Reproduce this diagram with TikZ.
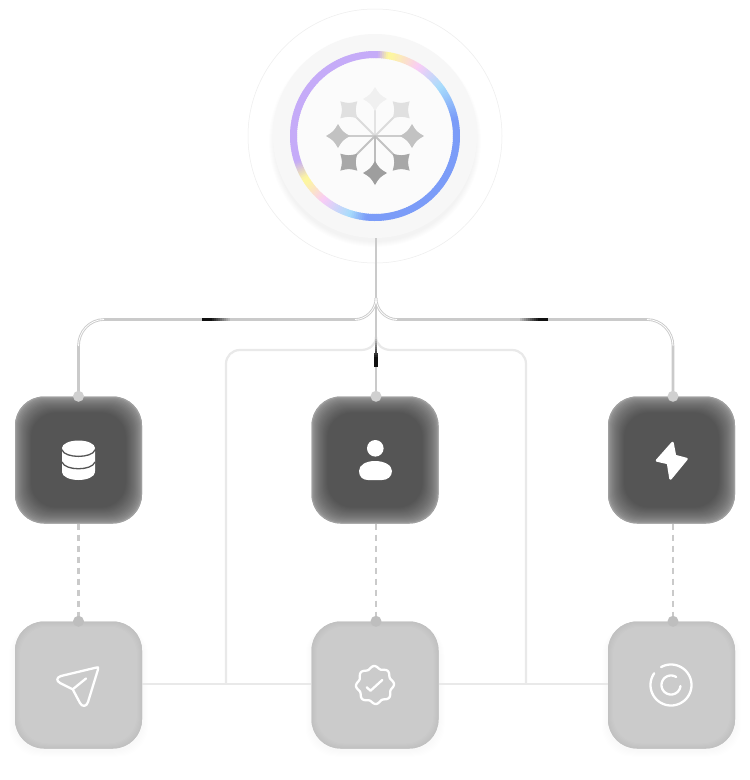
\documentclass[tikz,border=0pt]{standalone}
\definecolor{rpurple}{HTML}{C5ABF8}
\definecolor{ryellow}{HTML}{FDF6A0}
\definecolor{rpink}{HTML}{F9CCF6}
\definecolor{rlblue}{HTML}{A8DDFC}
\definecolor{rblue}{HTML}{7B9CF8}
\definecolor{dkcore}{HTML}{555555}
\definecolor{dkrim}{HTML}{A0A0A0}
\definecolor{ltcore}{HTML}{CBCBCB}
\definecolor{ltrim}{HTML}{C1C1C1}
\definecolor{wire}{HTML}{CACACA}
\definecolor{wirelt}{HTML}{E9E9E9}
\definecolor{dotc}{HTML}{D0D0D0}
\definecolor{dotd}{HTML}{BEBEBE}
\tikzset{
  tile/.style={minimum width=127pt,minimum height=127pt,inner sep=0pt,rounded corners=29pt},
  darktile/.style={tile,fill=dkrim},
  lighttile/.style={tile,fill=ltrim},
  mainwire/.style={draw=wire,line width=2.6pt},
  softwire/.style={draw=wirelt,line width=2.2pt},
  core/.style={draw=white,line width=0.8pt},
  dashwire/.style={draw=wire,line width=2.4pt,dash pattern=on 6pt off 5pt},
  icon/.style={draw=white,line width=2.3pt,line cap=round,line join=round}
}
\newcommand{\insetfill}[6]{% cx cy core rim steps exponent
  \foreach \i in {0,...,#5}{
    \pgfmathsetmacro\pp{100*(\i/#5)^#6}
    \pgfmathsetmacro\rr{max(29-0.25*\i,6)}
    \colorlet{tmpc}{#3!\pp!#4}
    \fill[tmpc,rounded corners=\rr pt] ({#1-63.5+\i},{#2-63.5+\i}) rectangle ({#1+63.5-\i},{#2+63.5-\i});
  }
}
\newcommand{\softshadow}[2]{% cx cy
  \foreach \i in {6,5,...,1}{
    \fill[black,opacity=0.004,rounded corners=30pt] ({#1-63.5-\i},{#2-62+\i*0.3}) rectangle ({#1+63.5+\i},{#2+65.5+\i});
  }
}
\newcommand{\flake}[3]{% angle, tone, spoke tone
  \begin{scope}[shift={(375,136)},rotate=#1]
    \draw[draw=black!#3,line width=1.9pt] (0,0) -- (27,0);
    \fill[black!#2] (25,0) .. controls (32.5,4.5) .. (37,12) .. controls (41.5,4.5) .. (49,0)
      .. controls (41.5,-4.5) .. (37,-12) .. controls (32.5,-4.5) .. (25,0) -- cycle;
  \end{scope}
}
\begin{document}
\begin{tikzpicture}[x=1pt,y=-1pt]
\useasboundingbox (0,0) rectangle (750,780);
\fill[white] (0,0) rectangle (750,780);

% halo and disc
\draw[draw=black!7,line width=0.5pt] (375,136) circle (127pt);
\foreach \i in {5,4,...,0}{
  \fill[black,opacity=0.006] (375,141) circle ({101+\i*1pt});
}
\fill[black!3] (375,136) circle (102pt);
\fill[black!1.5] (375,136) circle (80pt);

% gradient ring
\foreach \a/\b/\ca/\cb in {0/2/rpurple/rpurple,2/9/rpurple/ryellow,9/12/ryellow/ryellow,12/32/ryellow/rpink,32/53/rpink/rlblue,53/78/rlblue/rblue,78/186/rblue/rblue,186/198/rblue/rlblue,198/219/rlblue/rpink,219/236/rpink/ryellow,236/239/ryellow/ryellow,239/252/ryellow/rpurple,252/360/rpurple/rpurple}{
  \pgfmathtruncatemacro\nn{max(1,ceil((\b-\a)/1.5))}
  \foreach \t in {1,...,\nn}{
    \pgfmathsetmacro\pp{100*(\t-0.5)/\nn}
    \pgfmathsetmacro\ta{\a+(\t-1)*(\b-\a)/\nn}
    \pgfmathsetmacro\tb{\a+\t*(\b-\a)/\nn+0.4}
    \colorlet{tmpc}{\cb!\pp!\ca}
    \draw[tmpc,line width=7pt] ({375+81.5*sin(\ta)},{136-81.5*cos(\ta)}) -- ({375+81.5*sin(\tb)},{136-81.5*cos(\tb)});
  }
}

% snowflake emblem
\flake{90}{6}{11}
\flake{45}{12}{14}
\flake{135}{12}{14}
\flake{0}{24}{20}
\flake{180}{24}{20}
\flake{-45}{34}{24}
\flake{-135}{34}{24}
\flake{-90}{38}{26}

% soft shadows of the lower tiles
\softshadow{78.5}{685}
\softshadow{375}{685}
\softshadow{671.5}{685}

% named tiles
\node[darktile] (n1) at (78.5,460) {};
\node[darktile] (n2) at (375,460) {};
\node[darktile] (n3) at (671.5,460) {};
\node[lighttile] (m1) at (78.5,685) {};
\node[lighttile] (m2) at (375,685) {};
\node[lighttile] (m3) at (671.5,685) {};
\coordinate (src) at (376,238);
\coordinate (hub) at (376,298);
\coordinate (hubl) at (376,337);
\coordinate (j1) at (226,684);
\coordinate (j2) at (526,684);
\coordinate (pn2) at ([xshift=1pt]n2.north);
\coordinate (pn3) at ([xshift=1.5pt]n3.north);
\coordinate (sn2) at ([xshift=1pt]n2.south);
\coordinate (sn3) at ([xshift=1.5pt]n3.south);
\coordinate (tm2) at ([xshift=1pt]m2.north);
\coordinate (tm3) at ([xshift=1.5pt]m3.north);

% soft wires
\draw[softwire] (j1) -- (226,364) .. controls (226,356) and (232,350) .. (240,350) -- (361,350) .. controls (369,350) and (376,345) .. (hubl);
\draw[softwire] (j2) -- (526,364) .. controls (526,356) and (520,350) .. (512,350) -- (391,350) .. controls (383,350) and (376,345) .. (hubl);
\draw[softwire] (m1.east |- j1) -- (m2.west |- j1);
\draw[softwire] (m2.east |- j1) -- (m3.west |- j1);

% main wires
\draw[mainwire] (src) -- (pn2);
\draw[mainwire] (n1.north) -- (78.5,346) .. controls (78.5,331.6) and (89.6,319.5) .. (104,319.5) -- (355,319.5) .. controls (366,319.5) and (376,310) .. (hub);
\draw[mainwire] (pn3) -- (673,346) .. controls (673,331.6) and (661.4,319.5) .. (647,319.5) -- (397,319.5) .. controls (386,319.5) and (376,310) .. (hub);
\draw[core] (78.5,346) .. controls (78.5,331.6) and (89.6,319.5) .. (104,319.5);
\draw[core] (355,319.5) .. controls (366,319.5) and (376,310) .. (hub);
\draw[core] (673,346) .. controls (673,331.6) and (661.4,319.5) .. (647,319.5);
\draw[core] (397,319.5) .. controls (386,319.5) and (376,310) .. (hub);

% dark pulses on the wires
\foreach \t in {0,...,14}{
  \pgfmathsetmacro\pp{\t<4 ? 92 : 92*(1-(\t-4)/10)}
  \pgfmathsetmacro\lw{3.4-0.06*\t}
  \draw[draw=black!\pp!wire,line width=\lw pt] ({202+2*\t},319.5) -- ({204.3+2*\t},319.5);
  \draw[draw=black!\pp!wire,line width=\lw pt] ({548-2*\t},319.5) -- ({545.7-2*\t},319.5);
  \draw[draw=black!\pp!wire,line width=\lw pt] (376,{367-2*\t}) -- (376,{364.7-2*\t});
}

% dashed links
\draw[dashwire] (n1.south) -- (m1.north);
\draw[dashwire] (sn2) -- (tm2);
\draw[dashwire] (sn3) -- (tm3);

% tile surfaces
\insetfill{78.5}{460}{dkcore}{dkrim}{16}{0.6}
\insetfill{375}{460}{dkcore}{dkrim}{16}{0.6}
\insetfill{671.5}{460}{dkcore}{dkrim}{16}{0.6}
\insetfill{78.5}{685}{ltcore}{ltrim}{5}{1}
\insetfill{375}{685}{ltcore}{ltrim}{5}{1}
\insetfill{671.5}{685}{ltcore}{ltrim}{5}{1}

% port dots
\fill[dotc] (n1.north) circle (5.5pt);
\fill[dotc] (pn2) circle (5.5pt);
\fill[dotc] (pn3) circle (5.5pt);
\fill[dotd] (m1.north) circle (5.5pt);
\fill[dotd] (tm2) circle (5.5pt);
\fill[dotd] (tm3) circle (5.5pt);

% database icon
\fill[white,rounded corners=3pt] (62,448) rectangle (95,474);
\fill[white] (78.5,448) ellipse (16.5pt and 7.5pt);
\fill[white] (78.5,472) ellipse (16.5pt and 8pt);
\draw[dkcore,line width=1.3pt] (62,450) .. controls (65,458.5) and (92,458.5) .. (95,450);
\draw[dkcore,line width=1.3pt] (62,462) .. controls (65,471) and (92,471) .. (95,462);

% person icon
\fill[white] (375.3,448.3) circle (8.3pt);
\fill[white] (359,471) .. controls (359,465) and (366,461) .. (375,461) .. controls (384,461) and (392,465) .. (392,471) .. controls (392,477) and (387,480) .. (382,480) -- (368,480) .. controls (363,480) and (359,477) .. (359,471) -- cycle;

% bolt icon
\draw[icon,fill=white,line width=2.5pt] (672.5,443) -- (657,460.5) -- (668,463) -- (670.5,478.5) -- (686.5,459) -- (675,456) -- cycle;

% send icon
\draw[icon] (96.5,667.5) .. controls (98,666.5) and (98.5,667.5) .. (98,669.5) -- (88,702) .. controls (86.5,707) and (82,707) .. (80,703) -- (72.7,689.3) -- (60,683) .. controls (56,680.5) and (56.5,677.5) .. (61,676) -- cycle;
\draw[icon] (72.7,689.3) -- (86,678.5);

% badge icon
\draw[icon] plot[domain=0:360,samples=145,smooth] ({375+(17.7+1.3*cos(8*\x+22))*cos(\x)},{685+(17.7+1.3*cos(8*\x+22))*sin(\x)}) -- cycle;
\draw[icon] (366.7,687.3) -- (370.5,690.7) -- (382.3,680);

% circular icon
\draw[icon] plot[domain=241:575,samples=70,smooth] ({671+20.5*cos(\x)},{685+20.5*sin(\x)});
\draw[icon] plot[domain=-354:-57,samples=50,smooth] ({671+9.5*cos(\x)},{685+9.5*sin(\x)});
\end{tikzpicture}
\end{document}
